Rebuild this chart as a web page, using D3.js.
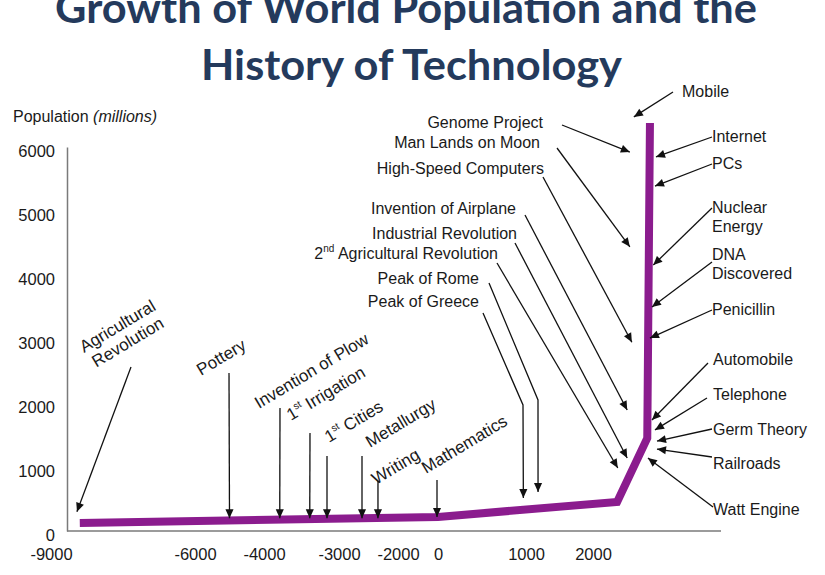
<!DOCTYPE html>
<html>
<head>
<meta charset="utf-8">
<script src="https://cdn.jsdelivr.net/npm/d3@7"></script>
<style>
  body { margin: 0; background: #fff; }
  svg { display: block; font-family: "Liberation Sans", Arial, sans-serif; }
</style>
</head>
<body>
<svg id="chart" width="825" height="575"></svg>
<script>
// axis ticks
var yearTicks = [-9000, -6000, -4000, -3000, -2000, 0, 1000, 2000];
var popTicks = [0, 1000, 2000, 3000, 4000, 5000, 6000];

// population curve (schematic, millions)
var curveYears = [-8400, 0, 2360, 2810, 2850];
var curvePops = [125, 220, 455, 1450, 6375];

// events and where their arrows point
var eventNames = ["Agricultural|Revolution", "Pottery", "Invention of Plow", "1^st Irrigation", "1^st Cities",
    "Metallurgy", "Writing", "Mathematics", "Peak of Greece", "Peak of Rome",
    "2^nd Agricultural Revolution", "Industrial Revolution", "Invention of Airplane", "High-Speed Computers",
    "Man Lands on Moon", "Genome Project", "Mobile", "Internet", "PCs", "Nuclear|Energy",
    "DNA|Discovered", "Penicillin", "Automobile", "Telephone", "Germ Theory", "Railroads", "Watt Engine"];
var eventYears = [-8460, -5000, -3790, -3390, -3160, -2610, -2340, -50, 970, 1180,
    2370, 2510, 2510, 2580, 2550, 2550, 2610, 2940, 2925, 2900,
    2880, 2850, 2880, 2925, 2955, 2955, 2820];
var eventPops = [300, 200, 200, 200, 200, 200, 200, 220, 515, 610,
    985, 1140, 1890, 2950, 4440, 5920, 6470, 5845, 5390, 4155,
    3500, 3015, 1735, 1580, 1405, 1280, 1140];

// label placement: [x, y, anchor, rotation]
var labelPos = [
    [84, 353, "start", -31], [201, 376, "start", -31], [259, 409, "start", -31], [291, 421, "start", -31],
    [329, 443, "start", -31], [370, 448, "start", -31], [376, 485, "start", -31], [426, 474, "start", -31],
    [479, 307, "end", 0], [479, 284, "end", 0], [498, 259, "end", 0], [517, 239, "end", 0],
    [516, 214, "end", 0], [544, 174, "end", 0], [540, 148, "end", 0], [543, 128, "end", 0],
    [682, 97, "start", 0], [712, 142, "start", 0], [712, 169, "start", 0], [712, 213, "start", 0],
    [712, 260, "start", 0], [712, 315, "start", 0], [713, 365, "start", 0], [713, 400, "start", 0],
    [713, 435, "start", 0], [713, 469, "start", 0], [713, 515, "start", 0]
];
// arrow tails (and bends)
var tailPos = [
    [[131, 367]], [[229, 373]], [[280, 408]], [[310, 433]], [[327, 456]], [[362, 456]], [[378, 481]], [[437, 480]],
    [[483, 313], [523, 405]], [[489, 283], [538, 400]], [[497, 263]], [[515, 243]], [[525, 215]], [[543, 177]],
    [[557, 148]], [[562, 125]], [[673, 92]], [[712, 137]], [[712, 164]], [[712, 208]], [[712, 262]],
    [[712, 310]], [[708, 363]], [[707, 398]], [[712, 429]], [[712, 457]], [[713, 507]]
];

var svg = d3.select("#chart");
var axisLeftX = 67, axisRightX = 721;

var x = d3.scaleLinear()
    .domain(yearTicks)
    .range([51, 195, 264, 339, 398, 438, 526, 593]);
var y = d3.scaleLinear()
    .domain([0, 6000])
    .range([531, 147]);

// title
var title = svg.append("g")
    .attr("font-family", "Lato, 'Open Sans', sans-serif")
    .attr("font-weight", "bold")
    .attr("fill", "#243a5c")
    .attr("font-size", 42)
    .attr("text-anchor", "start");
title.append("text").attr("x", 55).attr("y", 23)
    .attr("textLength", 702).attr("lengthAdjust", "spacingAndGlyphs")
    .text("Growth of World Population and the");
title.append("text").attr("x", 201).attr("y", 80)
    .attr("textLength", 421).attr("lengthAdjust", "spacingAndGlyphs")
    .text("History of Technology");

var plain = function (d) { return String(d); };

// y axis
var yAxis = svg.append("g")
    .attr("transform", "translate(" + axisLeftX + ",0)")
    .call(d3.axisLeft(y).tickValues(popTicks).tickSize(0).tickPadding(12).tickFormat(plain));
yAxis.select(".domain").attr("stroke", "#7a7a7a").attr("stroke-width", 1.5);
yAxis.selectAll("text").attr("font-size", 16.5).attr("fill", "#1a1a1a")
    .attr("font-family", "'Liberation Sans', Arial, sans-serif").attr("y", 4);

// x axis
var xAxis = svg.append("g")
    .attr("transform", "translate(0," + y(0) + ")")
    .call(d3.axisBottom(x).tickValues(yearTicks).tickSize(0).tickPadding(17).tickFormat(plain));
xAxis.select(".domain").remove();
xAxis.selectAll("text").attr("font-size", 16.5).attr("fill", "#1a1a1a")
    .attr("font-family", "'Liberation Sans', Arial, sans-serif");
svg.append("line")
    .attr("x1", axisLeftX).attr("x2", axisRightX)
    .attr("y1", y(0)).attr("y2", y(0))
    .attr("stroke", "#7a7a7a").attr("stroke-width", 1.5);

var yLabel = svg.append("text")
    .attr("x", 13).attr("y", 122)
    .attr("font-size", 16).attr("fill", "#1a1a1a");
yLabel.append("tspan").text("Population ");
yLabel.append("tspan").attr("font-style", "italic").text("(millions)");

// population curve
var curve = curveYears.map(function (d, i) { return [d, curvePops[i]]; });
svg.append("path")
    .datum(curve)
    .attr("d", d3.line().x(function (d) { return x(d[0]); }).y(function (d) { return y(d[1]); }))
    .attr("fill", "none")
    .attr("stroke", "#8b1c8e")
    .attr("stroke-width", 8)
    .attr("stroke-linejoin", "miter");

// arrowheads
svg.append("defs").append("marker")
    .attr("id", "arr")
    .attr("viewBox", "0 -5 10 10")
    .attr("refX", 10).attr("refY", 0)
    .attr("markerWidth", 10).attr("markerHeight", 9)
    .attr("markerUnits", "userSpaceOnUse")
    .attr("orient", "auto")
    .append("path").attr("d", "M0,-4.5L10,0L0,4.5Z").attr("fill", "#111");

var events = eventNames.map(function (n, i) {
    return { name: n, year: eventYears[i], pop: eventPops[i], label: labelPos[i], tail: tailPos[i] };
});

svg.append("g").selectAll("path")
    .data(events)
    .enter().append("path")
    .attr("d", function (d) {
        var pts = d.tail.concat([[x(d.year), y(d.pop)]]);
        return d3.line()(pts);
    })
    .attr("fill", "none")
    .attr("stroke", "#111")
    .attr("stroke-width", 1.3)
    .attr("marker-end", "url(#arr)");

// event labels
var labels = svg.append("g").attr("fill", "#1a1a1a");
events.forEach(function (d) {
    var lp = d.label;
    var rotated = lp[3] !== 0;
    var t = labels.append("text")
        .attr("font-size", rotated ? 17 : 16)
        .attr("text-anchor", lp[2])
        .attr("transform", "translate(" + lp[0] + "," + lp[1] + ") rotate(" + lp[3] + ")");
    d.name.split("|").forEach(function (line, li) {
        var m = line.match(/^(\d)\^(\w+)(.*)$/);
        var first = t.append("tspan").attr("x", li && rotated ? 3 : 0).attr("y", li * 19);
        if (m) {
            first.text(m[1]);
            t.append("tspan").attr("font-size", 10).attr("dy", -7).text(m[2]);
            t.append("tspan").attr("dy", 7).text(m[3]);
        } else {
            first.text(line);
        }
    });
});
</script>
</body>
</html>
